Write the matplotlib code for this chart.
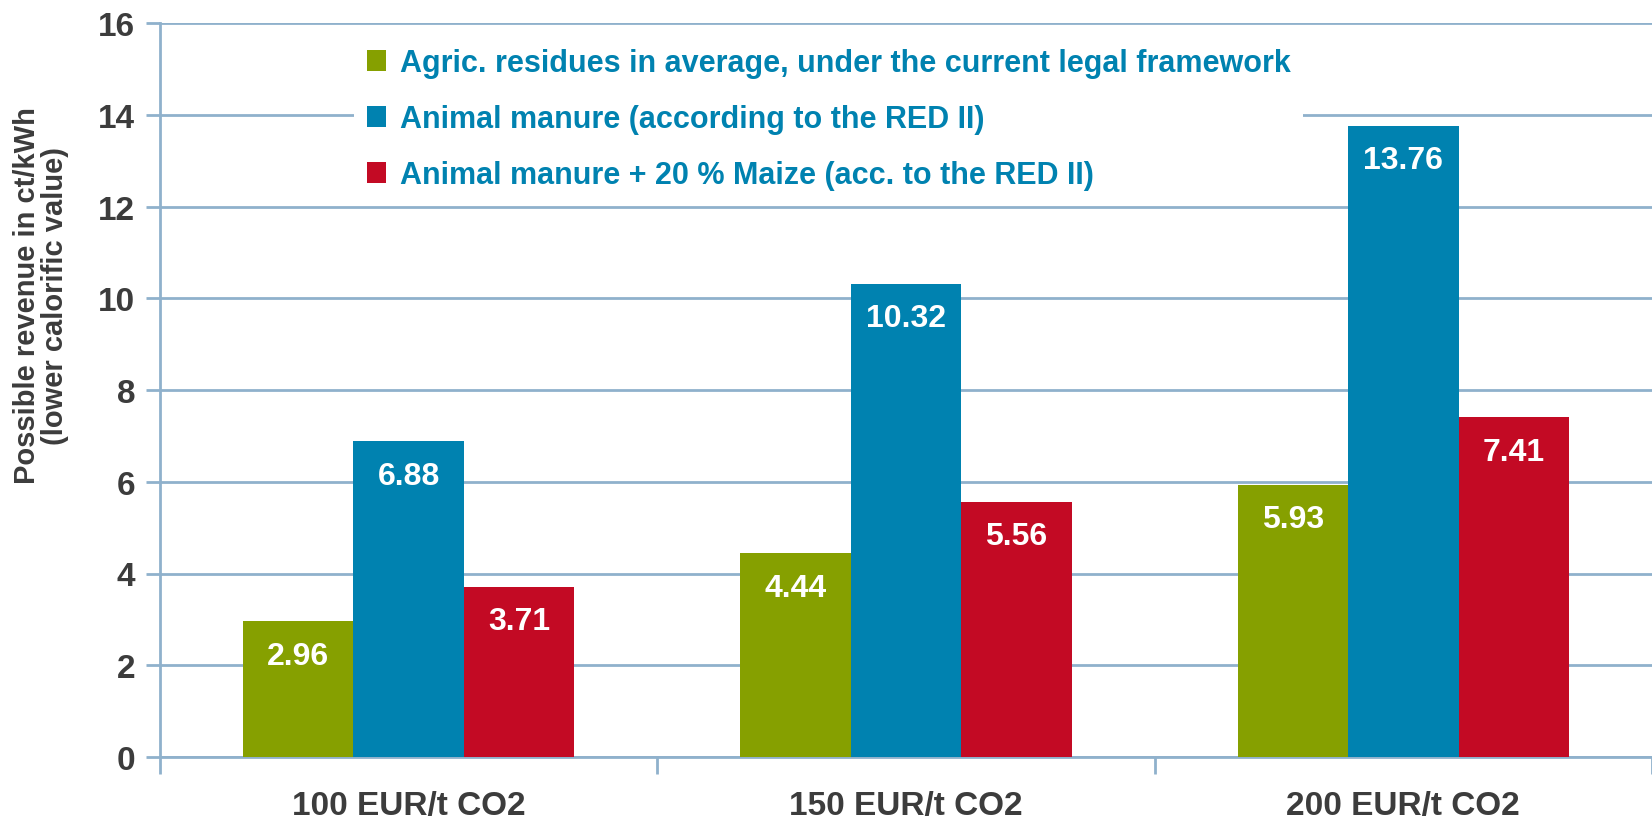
import numpy as np
import matplotlib.pyplot as plt

plt.rcParams['font.family'] = ['Liberation Sans Narrow', 'Liberation Sans', 'DejaVu Sans']
plt.rcParams['font.weight'] = 'bold'

categories = ['100 EUR/t CO2', '150 EUR/t CO2', '200 EUR/t CO2']
series_names = ['Agric. residues in average, under the current legal framework',
                'Animal manure (according to the RED II)',
                'Animal manure + 20 % Maize (acc. to the RED II)']
agric = [2.96, 4.44, 5.93]
manure = [6.88, 10.32, 13.76]
manure_maize = [3.71, 5.56, 7.41]
colors = ['#86a000', '#0082b0', '#c30a24']
yticks = [0, 2, 4, 6, 8, 10, 12, 14, 16]

grid_col = '#8fb1cc'
text_col = '#3c3c3c'

fig = plt.figure(figsize=(16.52, 8.2), dpi=100)
ax = fig.add_axes([160 / 1652, 1 - 758 / 820, 1 - 160 / 1652, (758 - 24) / 820])

x = np.arange(len(categories))
w = 0.222
handles = []
for i, (vals, col) in enumerate(zip([agric, manure, manure_maize], colors)):
    b = ax.bar(x + (i - 1) * w, vals, width=w, color=col, zorder=3)
    handles.append(b)
    for xi, v in zip(x + (i - 1) * w, vals):
        ax.annotate('%.2f' % v, (xi, v), xytext=(0, -14), textcoords='offset points',
                    ha='center', va='top', color='white', fontsize=23,
                    fontweight='bold', zorder=4)

ax.set_xlim(-0.5, 2.5)
ax.set_ylim(0, 16)
ax.set_yticks(yticks)
ax.set_yticklabels([str(t) for t in yticks], fontsize=24, color=text_col)
ax.yaxis.grid(True, color=grid_col, linewidth=2, zorder=0)
ax.set_axisbelow(True)
ax.tick_params(axis='y', length=10, width=2, color=grid_col, pad=8)

ax.set_xticks(x)
ax.set_xticklabels(categories, fontsize=24, color=text_col)
ax.tick_params(axis='x', length=0, pad=24)
ax.set_xticks([-0.5, 0.5, 1.5, 2.5], minor=True)
ax.tick_params(axis='x', which='minor', length=12, width=2, color=grid_col)

for s in ['top', 'right']:
    ax.spines[s].set_visible(False)
for s in ['left', 'bottom']:
    ax.spines[s].set_color(grid_col)
    ax.spines[s].set_linewidth(2)

ax.set_ylabel('Possible revenue in ct/kWh\n(lower calorific value)', fontsize=21,
              fontweight='bold', color=text_col, linespacing=1.0)
ax.yaxis.set_label_coords(-0.061, 0.63)

leg = ax.legend(handles, series_names, loc='upper left', bbox_to_anchor=(0.12, 1.003),
                fontsize=22, labelcolor='#0082b0', frameon=True, facecolor='white',
                edgecolor='none', framealpha=1, handlelength=0.65, handleheight=0.65,
                handletextpad=0.45, labelspacing=0.85, borderpad=0.4)
leg.set_zorder(5)

fig.savefig('out.png', dpi=100)
